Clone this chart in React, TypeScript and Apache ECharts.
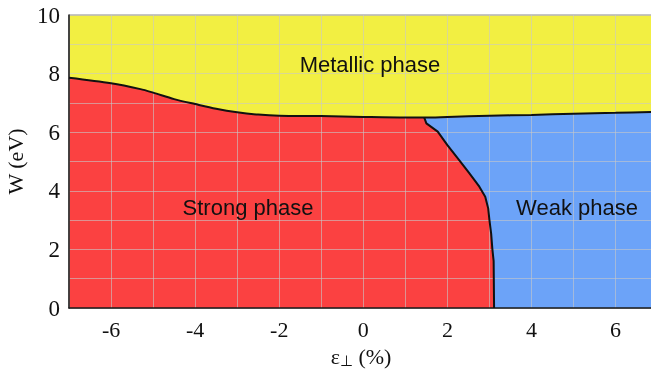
import React, { useEffect, useRef } from "react";
import * as echarts from "echarts";

// Metallic / non-metallic boundary (W vs strain)
const metallicBoundaryX = [-7, -6, -5.3, -5, -4.5, -4, -3.5, -3, -2.5, -2, -1, 0, 1, 1.45, 2, 3, 4, 5, 6, 6.9];
const metallicBoundaryW = [7.86, 7.67, 7.47, 7.35, 7.13, 6.96, 6.8, 6.68, 6.6, 6.56, 6.55, 6.52, 6.5, 6.5, 6.52, 6.56, 6.59, 6.63, 6.66, 6.69];

// Strong / weak boundary
const strongWeakBoundaryX = [1.45, 1.5, 1.77, 2.0, 2.28, 2.52, 2.76, 2.9, 2.97, 3.0, 3.04, 3.07, 3.1, 3.11];
const strongWeakBoundaryW = [6.5, 6.3, 6.02, 5.56, 5.05, 4.6, 4.14, 3.8, 3.4, 3.0, 2.55, 2.0, 1.6, 0];

const phaseLabels = ["Metallic phase", "Strong phase", "Weak phase"];

const xTicks = { min: -7, max: 6.89, interval: 1 };
const yTicks = { min: 0, max: 10, interval: 1 };

export default function App() {
  const ref = useRef<HTMLDivElement>(null);
  useEffect(() => {
    if (!ref.current) return;
    const chart = echarts.init(ref.current, null, { renderer: "svg" });
    const metallic = metallicBoundaryX.map((x, i) => [x, metallicBoundaryW[i]]);
    const tripleIdx = metallicBoundaryX.indexOf(strongWeakBoundaryX[0]);
    const strongWeak = strongWeakBoundaryX.map((x, i) => [x, strongWeakBoundaryW[i]]);
    const redPoly = metallic.slice(0, tripleIdx + 1).concat(strongWeak.slice(1));
    const serif = "'Liberation Serif', 'Times New Roman', serif";
    const sans = "'Liberation Sans', Arial, sans-serif";
    const evenFmt = (v: number) => (Math.abs(Math.round(v)) % 2 === 0 ? String(Math.round(v)) : "");
    const splitStyle = { show: true, lineStyle: { color: "rgba(200,200,200,0.6)", width: 1 } };
    chart.setOption({
      animation: false,
      grid: {
        left: 69, top: 15, right: -2, bottom: 62,
        containLabel: false, outerBoundsMode: "none",
        show: true, backgroundColor: "#f2ef42", borderColor: "#8a8a8a", borderWidth: 1,
      },
      xAxis: {
        type: "value", ...xTicks, z: 3.5,
        axisLine: { show: true, onZero: false, lineStyle: { color: "#1a1a1a", width: 1.5 } },
        axisTick: { show: false },
        axisLabel: { formatter: evenFmt, fontFamily: serif, fontSize: 22, color: "#111", margin: 10, showMaxLabel: false },
        splitLine: splitStyle,
        name: "ε{sub|⊥} (%)", nameLocation: "middle", nameGap: 33,
        nameTextStyle: {
          fontFamily: serif, fontSize: 22, color: "#111", lineHeight: 24,
          rich: { sub: { fontFamily: serif, fontSize: 15, color: "#111", lineHeight: 24, padding: [8, 0, 0, 0] } },
        },
      },
      yAxis: {
        type: "value", ...yTicks, z: 3.5,
        axisLine: { show: true, onZero: false, lineStyle: { color: "#1a1a1a", width: 1.5 } },
        axisTick: { show: false },
        axisLabel: { formatter: evenFmt, fontFamily: serif, fontSize: 23, color: "#111", margin: 9 },
        splitLine: splitStyle,
        name: "W (eV)", nameLocation: "middle", nameGap: 35,
        nameTextStyle: { fontFamily: serif, fontSize: 22, color: "#111" },
      },
      series: [
        {
          type: "line", data: metallic, symbol: "none", z: 2,
          lineStyle: { width: 0, opacity: 0 },
          areaStyle: { color: "#6ca3f8", opacity: 1, origin: "start" },
        },
        {
          type: "line", data: redPoly, symbol: "none", z: 3,
          lineStyle: { width: 0, opacity: 0 },
          areaStyle: { color: "#fb4141", opacity: 1, origin: "start" },
        },
        {
          type: "line", data: metallic, symbol: "none", z: 4, smooth: 0.3,
          lineStyle: { color: "#111", width: 2 },
        },
        {
          type: "line", data: strongWeak, symbol: "none", z: 4,
          lineStyle: { color: "#111", width: 2 },
        },
      ],
      graphic: [
        { type: "text", x: 370, y: 64, style: { text: phaseLabels[0], font: `22px ${sans}`, fill: "#111", align: "center", verticalAlign: "middle" }, z: 10 },
        { type: "text", x: 248, y: 207, style: { text: phaseLabels[1], font: `22px ${sans}`, fill: "#111", align: "center", verticalAlign: "middle" }, z: 10 },
        { type: "text", x: 577, y: 207, style: { text: phaseLabels[2], font: `22px ${sans}`, fill: "#111", align: "center", verticalAlign: "middle" }, z: 10 },
      ],
    });
    return () => chart.dispose();
  }, []);
  return <div ref={ref} style={{ position: "fixed", left: 0, top: 0, width: 651, height: 370 }} />;
}
